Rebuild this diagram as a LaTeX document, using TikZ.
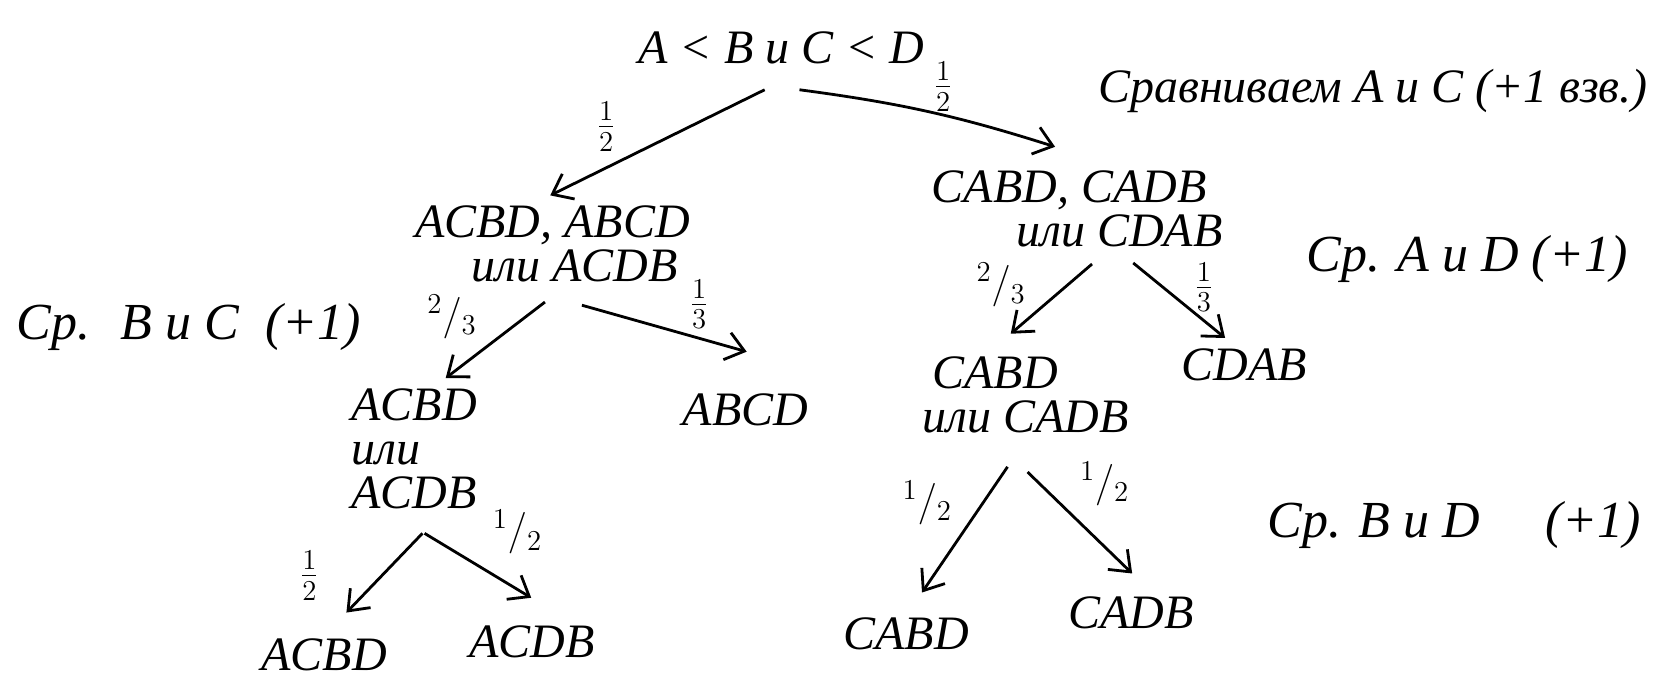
\documentclass[tikz,border=0pt]{standalone}
\usepackage{fontspec}
\setmainfont{Liberation Serif}
\usetikzlibrary{arrows.meta}

\begin{document}
\begin{tikzpicture}[x=0.528pt,y=-0.528pt]
      \tikzstyle lbl=[font=\fontsize{24}{22}\selectfont\itshape, inner sep=1pt]
      \tikzstyle note=[font=\fontsize{26}{28}\selectfont\itshape, inner sep=1pt]
      \tikzstyle frac=[font=\fontsize{22}{24}\selectfont, inner sep=0pt]
      \tikzstyle arr=[line width=1.4pt, -{Straight Barb[length=9pt,width=14pt]}]
      \useasboundingbox (0,0) rectangle (1568,642);
      % orderings
      \node [lbl] (top) at (740,45) {A < B и C < D};
      \node [lbl, align=right] (L) at (523,231) {ACBD, ABCD\\или ACDB\hspace*{6pt}};
      \node [lbl, align=right] (R) at (1020,198) {CABD, CADB\hspace*{8pt}\\или CDAB};
      \node [lbl, align=left] (LL) at (392,425) {ACBD\\или\\ACDB};
      \node [lbl] (LR) at (706,388) {ABCD};
      \node [lbl, align=left] (RL) at (971,374) {\hspace*{5pt}CABD\\или CADB};
      \node [lbl] (RR) at (1178,345) {CDAB};
      \node [lbl] (LLL) at (307,620) {ACBD};
      \node [lbl] (LLR) at (504,608) {ACDB};
      \node [lbl] (RLL) at (858,600) {CABD};
      \node [lbl] (RLR) at (1071,580) {CADB};
      % comparisons
      \node [note, font=\fontsize{24}{26}\selectfont\itshape] (cmpAC) at (1300,86) {Сравниваем A и C (+1 взв.)};
      \node [note] (cmpAD) at (1389,245) {Ср. A и D (+1)};
      \node [note] (cmpBC) at (179,310) {Ср.~ B и C ~(+1)};
      \node [note] (cmpBD) at (1377,497) {Ср. B и D \quad(+1)};
      % arrows
      \draw [arr] ([shift={(-16,40)}]top.center) -- ([shift={(-2,-46)}]L.center);
      \draw [arr] ([shift={(17,40)}]top.center) to [bend left=5] ([shift={(-21,-59)}]R.center);
      \draw [arr] ([shift={(-7,55)}]L.center) -- ([shift={(30,-67)}]LL.center);
      \draw [arr] ([shift={(28,58)}]L.center) -- ([shift={(1,-55)}]LR.center);
      \draw [arr] ([shift={(14,52)}]R.center) -- ([shift={(-14,-58)}]RL.center);
      \draw [arr] ([shift={(53,51)}]R.center) -- ([shift={(-18,-25)}]RR.center);
      \draw [arr] ([shift={(-17,68)}]RL.center) -- ([shift={(15,-39)}]RLL.center);
      \draw [arr] ([shift={(2,73)}]RL.center) -- ([shift={(1,-37)}]RLR.center);
      \draw [arr] ([shift={(8,80)}]LL.center) -- ([shift={(21,-40)}]LLL.center);
      \draw [arr] ([shift={(10,80)}]LL.center) -- ([shift={(-1,-42)}]LLR.center);
      % probabilities
      \node [frac] (p1) at (574,120) {$\frac{1}{2}$};
      \node [frac] (p2) at (893,82) {$\frac{1}{2}$};
      \node [frac] (p3) at (428,300) {$^2/_3$};
      \node [frac] (p4) at (662,288) {$\frac{1}{3}$};
      \node [frac] (p5) at (948,270) {$^2/_3$};
      \node [frac] (p6) at (1140,272) {$\frac{1}{3}$};
      \node [frac] (p7) at (878,476) {$^1/_2$};
      \node [frac] (p8) at (1046,458) {$^1/_2$};
      \node [frac] (p9) at (293,545) {$\frac{1}{2}$};
      \node [frac] (p10) at (490,504) {$^1/_2$};
\end{tikzpicture}
\end{document}
